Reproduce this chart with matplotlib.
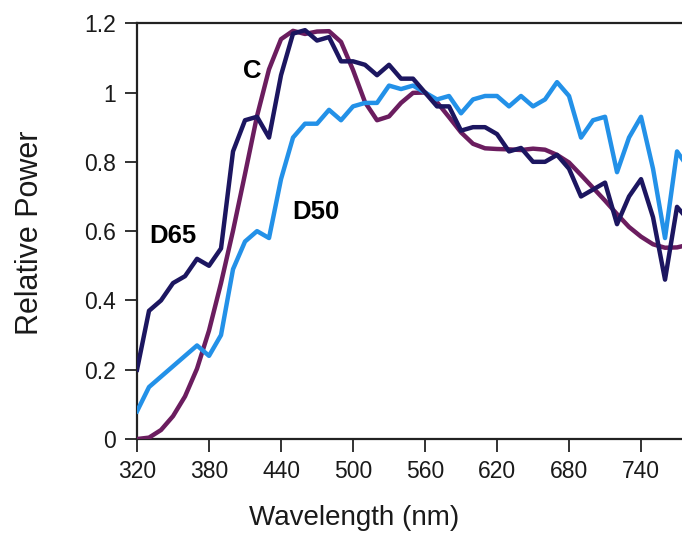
import matplotlib
matplotlib.use('Agg')
import matplotlib.pyplot as plt
import numpy as np

plt.rcParams['font.family'] = ['Liberation Sans', 'DejaVu Sans']

NAVY   = '#1c1660'
PURPLE = '#6b1d5f'
LIGHT  = '#2391e8'
AXIS   = '#222222'

wavelength = np.arange(320, 781, 10)

d65 = [0.20, 0.37, 0.40, 0.45, 0.47, 0.52, 0.50, 0.55, 0.83, 0.92,
       0.93, 0.87, 1.05, 1.17, 1.18, 1.15, 1.16, 1.09, 1.09, 1.08,
       1.05, 1.08, 1.04, 1.04, 1.00, 0.96, 0.96, 0.89, 0.90, 0.90,
       0.88, 0.83, 0.84, 0.80, 0.80, 0.82, 0.78, 0.70, 0.72, 0.74,
       0.62, 0.70, 0.75, 0.64, 0.46, 0.67, 0.63]

d50 = [0.08, 0.15, 0.18, 0.21, 0.24, 0.27, 0.24, 0.30, 0.49, 0.57,
       0.60, 0.58, 0.75, 0.87, 0.91, 0.91, 0.95, 0.92, 0.96, 0.97,
       0.97, 1.02, 1.01, 1.02, 1.00, 0.98, 0.99, 0.94, 0.98, 0.99,
       0.99, 0.96, 0.99, 0.96, 0.98, 1.03, 0.99, 0.87, 0.92, 0.93,
       0.77, 0.87, 0.93, 0.78, 0.58, 0.83, 0.78]

illum_c = [0.00, 0.004, 0.026, 0.066, 0.123, 0.203, 0.313, 0.450, 0.601, 0.765,
           0.932, 1.067, 1.154, 1.178, 1.169, 1.176, 1.177, 1.146, 1.065, 0.972,
           0.920, 0.931, 0.970, 0.999, 1.000, 0.972, 0.929, 0.885, 0.852, 0.839,
           0.837, 0.836, 0.834, 0.838, 0.835, 0.820, 0.798, 0.762, 0.725, 0.688,
           0.649, 0.612, 0.584, 0.562, 0.552, 0.553, 0.561]

xticks = [320, 380, 440, 500, 560, 620, 680, 740]
yticks = [0, 0.2, 0.4, 0.6, 0.8, 1.0, 1.2]
ytick_labels = ['0', '0.2', '0.4', '0.6', '0.8', '1', '1.2']

fig = plt.figure(figsize=(6.82, 5.40), dpi=100)
ax = fig.add_axes([0.2009, 0.187, 0.8094, 0.770])

lw = 3.2
ax.plot(wavelength, illum_c, color=PURPLE, lw=lw, solid_joinstyle='round', zorder=3)
ax.plot(wavelength, d50, color=LIGHT, lw=lw, solid_joinstyle='round', zorder=4)
ax.plot(wavelength, d65, color=NAVY, lw=lw, solid_joinstyle='round', zorder=5)

ax.set_xlim(320, 780)
ax.set_ylim(0, 1.2)
ax.set_xticks(xticks)
ax.set_yticks(yticks)
ax.set_yticklabels(ytick_labels)

for side in ['left', 'bottom', 'top']:
    ax.spines[side].set_color(AXIS)
    ax.spines[side].set_linewidth(1.6)
ax.spines['right'].set_visible(False)
ax.tick_params(axis='both', direction='out', length=9, width=1.3,
               color=AXIS, labelsize=16.5, labelcolor='#1a1a1a')
ax.tick_params(axis='x', pad=6)
ax.tick_params(axis='y', pad=6)

ax.text(350, 0.587, 'D65', fontsize=18.5, fontweight='bold', ha='center', va='center')
ax.text(416, 1.061, 'C', fontsize=18.5, fontweight='bold', ha='center', va='center')
ax.text(469, 0.656, 'D50', fontsize=18.5, fontweight='bold', ha='center', va='center')

fig.text(354.5 / 682, 1 - 518 / 540, 'Wavelength (nm)', fontsize=20,
         ha='center', va='center', color='#1a1a1a')
fig.text(30 / 682, 1 - 233 / 540, 'Relative Power', fontsize=22,
         ha='center', va='center', rotation=90, color='#1a1a1a')

plt.savefig('out.png', dpi=100, facecolor='white')
